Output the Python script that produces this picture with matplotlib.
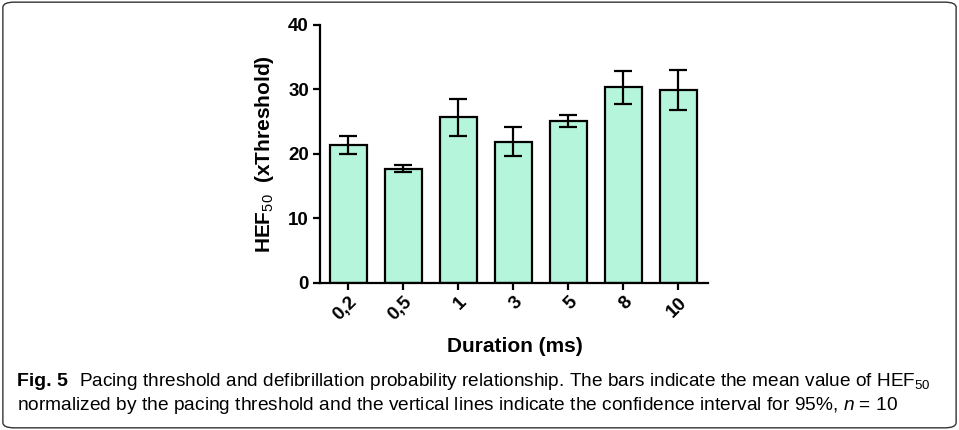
import matplotlib
matplotlib.use("Agg")
import matplotlib.pyplot as plt
from matplotlib.patches import FancyBboxPatch

durations = ['0,2', '0,5', '1', '3', '5', '8', '10']
hef50 = [21.4, 17.6, 25.7, 21.9, 25.1, 30.3, 29.9]
ci_low = [19.9, 17.2, 22.8, 19.7, 24.1, 27.7, 26.8]
ci_high = [22.8, 18.2, 28.5, 24.1, 26.1, 32.9, 33.0]

plt.rcParams['font.family'] = ['Liberation Sans', 'DejaVu Sans']
plt.rcParams['mathtext.fontset'] = 'custom'
plt.rcParams['mathtext.rm'] = 'Liberation Sans'
plt.rcParams['mathtext.it'] = 'Liberation Sans:italic'
plt.rcParams['mathtext.bf'] = 'Liberation Sans:bold'

fig = plt.figure(figsize=(9.59, 4.3), dpi=100)
ax = fig.add_axes([0.3337, 0.3426, 0.4046, 0.5993])

x = list(range(len(durations)))
err = [[m - lo for m, lo in zip(hef50, ci_low)], [hi - m for m, hi in zip(hef50, ci_high)]]
ax.bar(x, hef50, width=0.67, color='#b4f5dc', edgecolor='black', linewidth=1.6, zorder=2)
ax.errorbar(x, hef50, yerr=err, fmt='none', ecolor='black', elinewidth=1.6,
            capsize=6.5, capthick=1.6, zorder=3)

ax.set_ylim(0, 40)
ax.set_xlim(-0.515, 6.54)
ax.set_yticks([0, 10, 20, 30, 40])
ax.set_xticks(x)
ax.set_xticklabels(durations, rotation=45, ha='right', rotation_mode='anchor')
for s in ['top', 'right']:
    ax.spines[s].set_visible(False)
for s in ['left', 'bottom']:
    ax.spines[s].set_linewidth(1.6)
ax.tick_params(width=1.6, length=5, labelsize=13.5, pad=3)
for lab in ax.get_xticklabels() + ax.get_yticklabels():
    lab.set_fontweight('bold')
ax.set_ylabel(r'HEF$_{50}$  (xThreshold)', fontsize=15, fontweight='bold', labelpad=9)
fig.text(515 / 959, 1 - 347 / 430, 'Duration (ms)', fontsize=15, fontweight='bold',
         ha='center', va='center')

fig.text(17 / 959, 1 - 381 / 430, 'Fig. 5', fontsize=14, fontweight='bold', va='center')
fig.text(79 / 959, 1 - 381 / 430,
         'Pacing threshold and defibrillation probability relationship. The bars indicate the mean value of HEF$_{50}$',
         fontsize=13.7, va='center')
fig.text(17 / 959, 1 - 405 / 430,
         'normalized by the pacing threshold and the vertical lines indicate the confidence interval for 95%, $n$ = 10',
         fontsize=13.8, va='center')

frame = FancyBboxPatch((0.003, 0.005), 0.994, 0.99, boxstyle='round,pad=0,rounding_size=0.012',
                       transform=fig.transFigure, fill=False, edgecolor='#333333', linewidth=1.0)
fig.patches.append(frame)

fig.savefig('out.png', dpi=100)
